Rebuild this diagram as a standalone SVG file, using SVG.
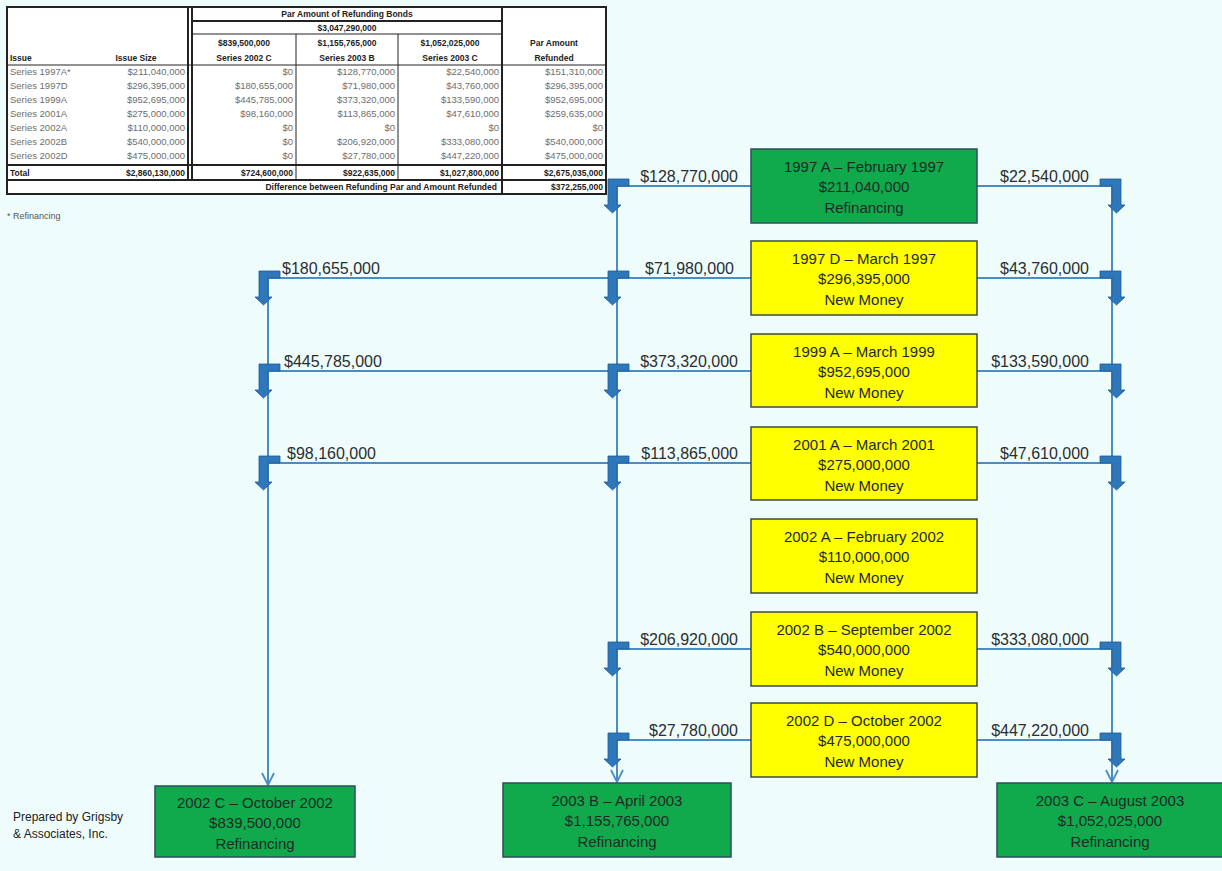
<svg xmlns="http://www.w3.org/2000/svg" width="1222" height="871" viewBox="0 0 1222 871">
<style>
.bg{fill:#effcfc}
.g{fill:#10a94c;stroke:#2c4e5e;stroke-width:1.5}
.y{fill:#ffff00;stroke:#3c4a44;stroke-width:1.5}
.bt{font-family:"Liberation Sans",Arial,sans-serif;font-size:15px;fill:#1e2a26;text-anchor:middle}
.lbl{font-family:"Liberation Sans",Arial,sans-serif;font-size:16px;fill:#2a2e32}
.end{text-anchor:end}
.ln{stroke:#4a8cc4;stroke-width:2;fill:none}
.ba{fill:#2f77bb;stroke:#1d5a96;stroke-width:0.8}
.tl{stroke:#222;stroke-width:1;fill:none}
.tk{stroke:#222;stroke-width:2;fill:none}
.td{font-family:"Liberation Sans",Arial,sans-serif;font-size:9.5px;fill:#6e6e6e}
.th{font-family:"Liberation Sans",Arial,sans-serif;font-size:8.5px;font-weight:bold;fill:#222}
.r{text-anchor:end}
.c{text-anchor:middle}
.note{font-family:"Liberation Sans",Arial,sans-serif;font-size:12px;fill:#222}
</style>
<defs>
<marker id="chev" viewBox="0 0 14 14" refX="13" refY="7" markerWidth="14" markerHeight="14" markerUnits="userSpaceOnUse" orient="auto">
<path d="M1,1 L13,7 L1,13" fill="none" stroke="#4a8cc4" stroke-width="1.8"/>
</marker>
</defs>
<rect class="bg" x="0" y="0" width="1222" height="871"/>

<g id="table">
<rect x="7" y="7" width="599" height="187" fill="#ffffff"/>
<rect class="tk" x="7" y="7" width="599" height="187"/>
<line class="tk" x1="188" y1="7" x2="188" y2="180"/>
<line class="tk" x1="192" y1="7" x2="192" y2="180"/>
<line class="tk" x1="502" y1="7" x2="502" y2="194"/>
<line class="tl" x1="296" y1="34" x2="296" y2="180"/>
<line class="tl" x1="398" y1="34" x2="398" y2="180"/>
<line class="tk" x1="192" y1="21" x2="502" y2="21"/>
<line class="tl" x1="192" y1="34" x2="502" y2="34"/>
<line class="tl" x1="7" y1="65" x2="606" y2="65"/>
<line class="tk" x1="7" y1="165" x2="606" y2="165"/>
<line class="tk" x1="7" y1="180" x2="606" y2="180"/>
<text class="th c" x="347" y="17">Par Amount of Refunding Bonds</text>
<text class="th c" x="347" y="31">$3,047,290,000</text>
<text class="th c" x="244" y="46">$839,500,000</text>
<text class="th c" x="347" y="46">$1,155,765,000</text>
<text class="th c" x="450" y="46">$1,052,025,000</text>
<text class="th c" x="554" y="46">Par Amount</text>
<text class="th" x="10" y="61">Issue</text>
<text class="th c" x="136" y="61">Issue Size</text>
<text class="th c" x="244" y="61">Series 2002 C</text>
<text class="th c" x="347" y="61">Series 2003 B</text>
<text class="th c" x="450" y="61">Series 2003 C</text>
<text class="th c" x="554" y="61">Refunded</text>
<g class="td">
<text x="10" y="75">Series 1997A*</text><text class="r" x="185" y="75">$211,040,000</text><text class="r" x="293" y="75">$0</text><text class="r" x="395" y="75">$128,770,000</text><text class="r" x="499" y="75">$22,540,000</text><text class="r" x="603" y="75">$151,310,000</text>
<text x="10" y="89">Series 1997D</text><text class="r" x="185" y="89">$296,395,000</text><text class="r" x="293" y="89">$180,655,000</text><text class="r" x="395" y="89">$71,980,000</text><text class="r" x="499" y="89">$43,760,000</text><text class="r" x="603" y="89">$296,395,000</text>
<text x="10" y="103">Series 1999A</text><text class="r" x="185" y="103">$952,695,000</text><text class="r" x="293" y="103">$445,785,000</text><text class="r" x="395" y="103">$373,320,000</text><text class="r" x="499" y="103">$133,590,000</text><text class="r" x="603" y="103">$952,695,000</text>
<text x="10" y="117">Series 2001A</text><text class="r" x="185" y="117">$275,000,000</text><text class="r" x="293" y="117">$98,160,000</text><text class="r" x="395" y="117">$113,865,000</text><text class="r" x="499" y="117">$47,610,000</text><text class="r" x="603" y="117">$259,635,000</text>
<text x="10" y="131">Series 2002A</text><text class="r" x="185" y="131">$110,000,000</text><text class="r" x="293" y="131">$0</text><text class="r" x="395" y="131">$0</text><text class="r" x="499" y="131">$0</text><text class="r" x="603" y="131">$0</text>
<text x="10" y="145">Series 2002B</text><text class="r" x="185" y="145">$540,000,000</text><text class="r" x="293" y="145">$0</text><text class="r" x="395" y="145">$206,920,000</text><text class="r" x="499" y="145">$333,080,000</text><text class="r" x="603" y="145">$540,000,000</text>
<text x="10" y="159">Series 2002D</text><text class="r" x="185" y="159">$475,000,000</text><text class="r" x="293" y="159">$0</text><text class="r" x="395" y="159">$27,780,000</text><text class="r" x="499" y="159">$447,220,000</text><text class="r" x="603" y="159">$475,000,000</text>
</g>
<text class="th" x="10" y="176">Total</text>
<text class="th r" x="185" y="176">$2,860,130,000</text>
<text class="th r" x="293" y="176">$724,600,000</text>
<text class="th r" x="395" y="176">$922,635,000</text>
<text class="th r" x="499" y="176">$1,027,800,000</text>
<text class="th r" x="603" y="176">$2,675,035,000</text>
<text class="th r" x="497" y="190">Difference between Refunding Par and Amount Refunded</text>
<text class="th r" x="603" y="190">$372,255,000</text>
</g>
<text class="td" x="7" y="219" style="font-size:9px;fill:#555">* Refinancing</text>

<g id="connectors">
<line class="ln" x1="617" y1="186" x2="617" y2="782" marker-end="url(#chev)"/>
<line class="ln" x1="1112" y1="186" x2="1112" y2="782" marker-end="url(#chev)"/>
<line class="ln" x1="268" y1="278" x2="268" y2="785" marker-end="url(#chev)"/>
<line class="ln" x1="617" y1="186" x2="751" y2="186"/>
<line class="ln" x1="977" y1="186" x2="1112" y2="186"/>
<line class="ln" x1="268" y1="278" x2="751" y2="278"/>
<line class="ln" x1="977" y1="278" x2="1112" y2="278"/>
<line class="ln" x1="268" y1="371" x2="751" y2="371"/>
<line class="ln" x1="977" y1="371" x2="1112" y2="371"/>
<line class="ln" x1="268" y1="463" x2="751" y2="463"/>
<line class="ln" x1="977" y1="463" x2="1112" y2="463"/>
<line class="ln" x1="617" y1="649" x2="751" y2="649"/>
<line class="ln" x1="977" y1="649" x2="1112" y2="649"/>
<line class="ln" x1="617" y1="740" x2="751" y2="740"/>
<line class="ln" x1="977" y1="740" x2="1112" y2="740"/>
<g id="bent-left">
<path class="ba" transform="translate(617,186)" d="M12,-7 L12,0 L0,0 L0,19 L4,19 L-4.5,27 L-13,19 L-9,19 L-9,-7 Z"/>
<path class="ba" transform="translate(617,278)" d="M12,-7 L12,0 L0,0 L0,19 L4,19 L-4.5,27 L-13,19 L-9,19 L-9,-7 Z"/>
<path class="ba" transform="translate(617,371)" d="M12,-7 L12,0 L0,0 L0,19 L4,19 L-4.5,27 L-13,19 L-9,19 L-9,-7 Z"/>
<path class="ba" transform="translate(617,463)" d="M12,-7 L12,0 L0,0 L0,19 L4,19 L-4.5,27 L-13,19 L-9,19 L-9,-7 Z"/>
<path class="ba" transform="translate(617,649)" d="M12,-7 L12,0 L0,0 L0,19 L4,19 L-4.5,27 L-13,19 L-9,19 L-9,-7 Z"/>
<path class="ba" transform="translate(617,740)" d="M12,-7 L12,0 L0,0 L0,19 L4,19 L-4.5,27 L-13,19 L-9,19 L-9,-7 Z"/>
<path class="ba" transform="translate(268,278)" d="M12,-7 L12,0 L0,0 L0,19 L4,19 L-4.5,27 L-13,19 L-9,19 L-9,-7 Z"/>
<path class="ba" transform="translate(268,371)" d="M12,-7 L12,0 L0,0 L0,19 L4,19 L-4.5,27 L-13,19 L-9,19 L-9,-7 Z"/>
<path class="ba" transform="translate(268,463)" d="M12,-7 L12,0 L0,0 L0,19 L4,19 L-4.5,27 L-13,19 L-9,19 L-9,-7 Z"/>
</g>
<g id="bent-right">
<path class="ba" transform="translate(1112,186)" d="M-12,-7 L-12,0 L0,0 L0,19 L-4,19 L4.5,27 L13,19 L9,19 L9,-7 Z"/>
<path class="ba" transform="translate(1112,278)" d="M-12,-7 L-12,0 L0,0 L0,19 L-4,19 L4.5,27 L13,19 L9,19 L9,-7 Z"/>
<path class="ba" transform="translate(1112,371)" d="M-12,-7 L-12,0 L0,0 L0,19 L-4,19 L4.5,27 L13,19 L9,19 L9,-7 Z"/>
<path class="ba" transform="translate(1112,463)" d="M-12,-7 L-12,0 L0,0 L0,19 L-4,19 L4.5,27 L13,19 L9,19 L9,-7 Z"/>
<path class="ba" transform="translate(1112,649)" d="M-12,-7 L-12,0 L0,0 L0,19 L-4,19 L4.5,27 L13,19 L9,19 L9,-7 Z"/>
<path class="ba" transform="translate(1112,740)" d="M-12,-7 L-12,0 L0,0 L0,19 L-4,19 L4.5,27 L13,19 L9,19 L9,-7 Z"/>
</g>
<g id="labels">
<text class="lbl end" x="738" y="182">$128,770,000</text>
<text class="lbl end" x="1089" y="182">$22,540,000</text>
<text class="lbl" x="282" y="274">$180,655,000</text>
<text class="lbl end" x="734" y="274">$71,980,000</text>
<text class="lbl end" x="1089" y="274">$43,760,000</text>
<text class="lbl" x="284" y="367">$445,785,000</text>
<text class="lbl end" x="738" y="367">$373,320,000</text>
<text class="lbl end" x="1089" y="367">$133,590,000</text>
<text class="lbl" x="287" y="459">$98,160,000</text>
<text class="lbl end" x="738" y="459">$113,865,000</text>
<text class="lbl end" x="1089" y="459">$47,610,000</text>
<text class="lbl end" x="738" y="645">$206,920,000</text>
<text class="lbl end" x="1089" y="645">$333,080,000</text>
<text class="lbl end" x="738" y="736">$27,780,000</text>
<text class="lbl end" x="1089" y="736">$447,220,000</text>
</g>
</g>

<g id="n1997A"><rect class="g" x="751" y="149" width="226" height="74"/>
<text class="bt" x="864" y="172">1997 A – February 1997</text><text class="bt" x="864" y="192">$211,040,000</text><text class="bt" x="864" y="213">Refinancing</text></g>
<g id="n1997D"><rect class="y" x="751" y="241" width="226" height="74"/>
<text class="bt" x="864" y="264">1997 D –  March 1997</text><text class="bt" x="864" y="284">$296,395,000</text><text class="bt" x="864" y="305">New Money</text></g>
<g id="n1999A"><rect class="y" x="751" y="334" width="226" height="73"/>
<text class="bt" x="864" y="357">1999 A – March 1999</text><text class="bt" x="864" y="377">$952,695,000</text><text class="bt" x="864" y="398">New Money</text></g>
<g id="n2001A"><rect class="y" x="751" y="427" width="226" height="73"/>
<text class="bt" x="864" y="450">2001 A  – March 2001</text><text class="bt" x="864" y="470">$275,000,000</text><text class="bt" x="864" y="491">New Money</text></g>
<g id="n2002A"><rect class="y" x="751" y="519" width="226" height="74"/>
<text class="bt" x="864" y="542">2002 A  – February 2002</text><text class="bt" x="864" y="562">$110,000,000</text><text class="bt" x="864" y="583">New Money</text></g>
<g id="n2002B"><rect class="y" x="751" y="612" width="226" height="74"/>
<text class="bt" x="864" y="635">2002 B  – September 2002</text><text class="bt" x="864" y="655">$540,000,000</text><text class="bt" x="864" y="676">New Money</text></g>
<g id="n2002D"><rect class="y" x="751" y="703" width="226" height="74"/>
<text class="bt" x="864" y="726">2002 D – October 2002</text><text class="bt" x="864" y="746">$475,000,000</text><text class="bt" x="864" y="767">New Money</text></g>
<g id="n2002C"><rect class="g" x="155" y="786" width="200" height="71"/>
<text class="bt" x="255" y="808">2002 C – October 2002</text><text class="bt" x="255" y="828">$839,500,000</text><text class="bt" x="255" y="849">Refinancing</text></g>
<g id="n2003B"><rect class="g" x="503" y="783" width="228" height="74"/>
<text class="bt" x="617" y="806">2003 B – April 2003</text><text class="bt" x="617" y="826">$1,155,765,000</text><text class="bt" x="617" y="847">Refinancing</text></g>
<g id="n2003C"><rect class="g" x="997" y="783" width="226" height="74"/>
<text class="bt" x="1110" y="806">2003 C – August 2003</text><text class="bt" x="1110" y="826">$1,052,025,000</text><text class="bt" x="1110" y="847">Refinancing</text></g>

<text class="note" x="13" y="821">Prepared by Grigsby</text>
<text class="note" x="13" y="838">&amp; Associates, Inc.</text>
</svg>
